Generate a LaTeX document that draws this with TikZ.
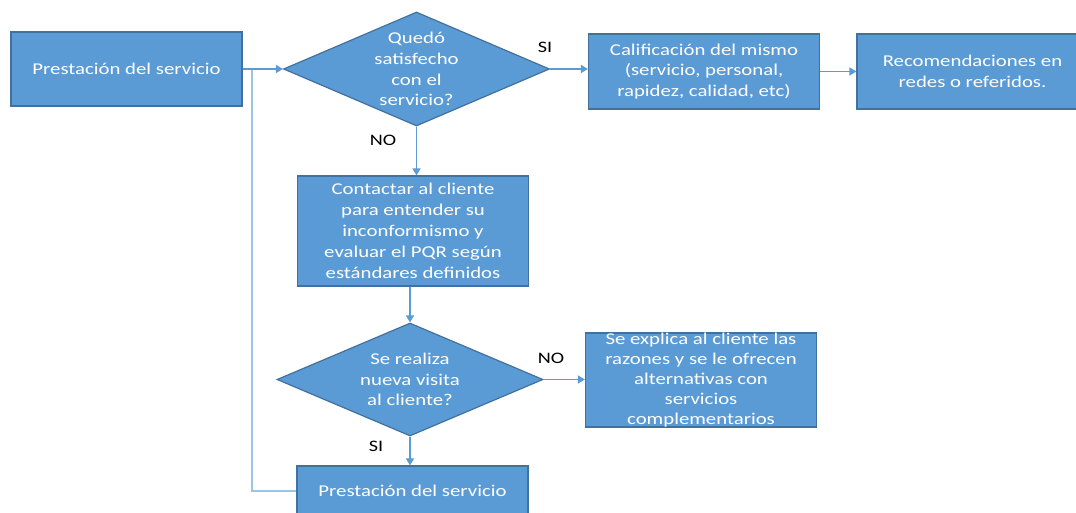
\documentclass[tikz,border=0pt]{standalone}
\usepackage{fontspec}
\setmainfont[FakeStretch=1.26]{Carlito}
\usetikzlibrary{shapes.geometric,arrows.meta}
\definecolor{boxfill}{HTML}{5B9BD5}
\definecolor{boxline}{HTML}{41719C}
\definecolor{conn}{HTML}{5B9BD5}
\definecolor{fb}{HTML}{9DC3E6}
\tikzset{
  stepbox/.style={draw=boxline, fill=boxfill, line width=1.2pt, minimum width=231pt, minimum height=74pt, inner sep=0pt, text=white, align=center, font=\fontsize{16.5}{20.5}\selectfont},
  decbox/.style={draw=boxline, fill=boxfill, line width=1.2pt, shape=diamond, inner sep=0pt},
  dtext/.style={text=white, align=center, font=\fontsize{16.5}{20.8}\selectfont},
  lab/.style={text=black, font=\fontsize{16}{18}\selectfont},
  conn/.style={draw=conn, line width=1.5pt, -{Triangle[width=8pt,length=7pt]}},
}
\begin{document}
\begin{tikzpicture}[x=1pt,y=-1pt]
\useasboundingbox (0,0) rectangle (1076,513);
\clip (0,0) rectangle (1076,513);
\fill[white] (0,0) rectangle (1076,513);

\node[stepbox] (p1) at (126.5,69) {Prestación del servicio};
\node[decbox, minimum width=266pt, minimum height=114pt] (d1) at (416.5,69) {};
\node[dtext] (d1t) at (416.5,69) {Quedó\\satisfecho\\con el\\servicio?};
\node[stepbox, minimum height=75pt] (cal) at (704,71.5) {Calificación del mismo\\(servicio, personal,\\rapidez, calidad, etc)};
\node[stepbox, minimum height=75pt] (rec) at (972.5,71.5) {Recomendaciones en\\redes o referidos.};
\node[stepbox, minimum height=110pt, font=\fontsize{16.5}{21}\selectfont] (con) at (413,231) {Contactar al cliente\\para entender su\\inconformismo y\\evaluar el PQR según\\estándares definidos};
\node[decbox, minimum width=266pt, minimum height=113pt] (d2) at (410,379.5) {};
\node[dtext] (d2t) at (410,379.5) {Se realiza\\nueva visita\\al cliente?};
\node[stepbox, minimum height=94pt, font=\fontsize{16.5}{19.8}\selectfont] (exp) at (701,380) {Se explica al cliente las\\razones y se le ofrecen\\alternativas con\\servicios\\complementarios};
\node[stepbox, minimum height=50pt] (p2) at (412.5,491) {Prestación del servicio};

\coordinate (j) at (252,69);

\draw[fb, line width=2.5pt] (p2.west) -| (j);
\draw[conn] (p1.east) -- (d1.west);
\draw[conn] (d1.east) -- (cal.west |- d1.east);
\draw[conn] (cal.east) -- (rec.west);
\draw[conn] (d1.south) -- (d1.south |- con.north);
\draw[conn] (con.south -| d2.north) -- (d2.north);
\draw[conn] (d2.east) -- (exp.west |- d2.east);
\draw[conn] (d2.south) -- (d2.south |- p2.north);

\node[lab] (l1) at (545,47) {SI};
\node[lab] (l2) at (383,140) {NO};
\node[lab] (l3) at (551,358) {NO};
\node[lab] (l4) at (376,446) {SI};
\end{tikzpicture}
\end{document}
